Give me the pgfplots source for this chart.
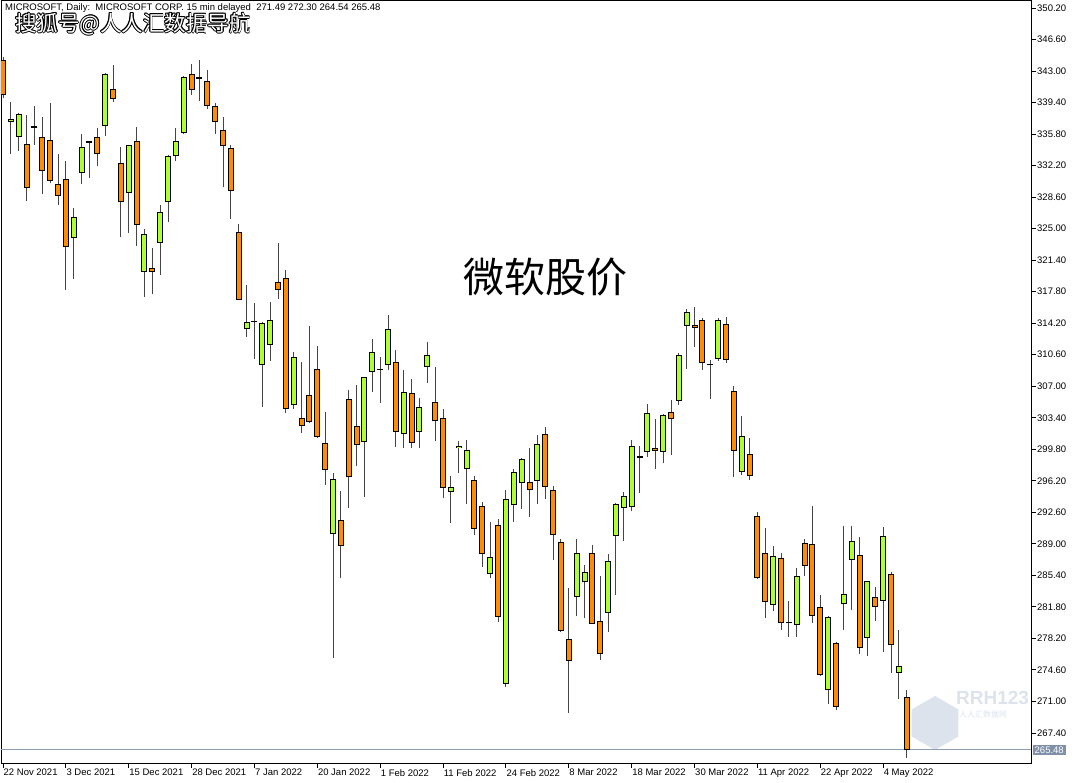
\documentclass[border=0pt]{standalone}
\usepackage{pgfplots}
\pgfplotsset{compat=1.18}
\usepackage{pgfplotstable}
\usepackage{fontspec}
\setmainfont{Liberation Sans}
\newfontfamily\cjk{Noto Sans CJK SC}
\definecolor{bull}{HTML}{ADFF2F}
\definecolor{bear}{HTML}{FF8C00}
\definecolor{wick}{HTML}{454545}
\definecolor{pline}{HTML}{8F9DB3}
\definecolor{pbox}{HTML}{7F90A8}
\definecolor{wm}{HTML}{DCE3EC}

\pgfplotstableread{
x o h l c
1 337.2 339.5 333.5 337.5
2 335.5 338.15 333.9 338.1
9 323.9 327.4 319.2 326.3
10 331.4 335.8 330.1 334.3
13 336.7 342.8 335.6 342.7
16 329.1 334.6 324.5 334.5
18 320.0 324.9 317.2 324.4
20 323.4 327.7 319.7 326.9
21 328.0 333.35 325.7 333.3
22 333.3 336.5 332.7 335.0
23 335.9 342.4 335.8 342.3
31 313.5 318.6 312.6 314.3
33 309.4 314.3 304.6 314.2
34 311.7 316.6 309.9 314.6
37 304.8 310.9 304.4 310.3
42 290.1 297.1 276.0 296.4
46 300.6 308.1 294.4 308.0
47 308.6 312.4 306.3 310.9
49 309.4 315.1 308.9 313.5
51 301.5 308.8 299.9 306.3
53 301.8 305.6 299.9 304.6
54 309.2 312.0 307.4 310.6
57 294.9 296.7 291.4 295.5
58 299.9 300.8 297.1 300.2
59 297.6 300.9 293.6 299.7
62 285.6 291.5 285.1 287.5
64 273.0 295.2 272.7 294.1
65 293.4 297.6 291.5 297.2
66 296.0 298.8 293.0 298.7
68 296.2 301.4 293.6 300.4
73 282.9 289.6 280.8 287.9
74 284.6 286.6 280.5 285.8
77 281.1 287.8 278.9 287.0
78 289.9 293.7 283.2 293.6
79 293.1 294.9 289.3 294.5
80 293.2 300.9 292.7 300.2
82 299.5 305.0 298.9 303.9
84 299.5 303.8 298.2 303.7
86 305.3 310.8 304.9 310.6
87 313.9 315.8 309.0 315.5
91 310.1 314.8 309.9 314.6
94 297.2 303.6 296.9 301.3
98 282.0 288.7 281.3 287.6
101 279.7 286.2 278.4 285.3
105 272.3 280.8 270.7 280.6
107 282.1 291.0 279.2 283.3
108 287.2 291.0 281.4 289.3
110 278.3 284.8 276.2 284.7
112 282.5 290.9 276.7 289.9
114 274.3 279.2 271.3 275.1
}\bulltab

\pgfplotstableread{
x o h l c
0 344.2 344.6 339.9 340.3
3 334.7 338.0 328.1 329.6
5 335.5 337.8 328.9 331.6
6 335.1 339.3 330.2 330.4
7 330.1 333.5 327.7 328.7
8 330.7 332.7 318.0 322.9
12 335.5 336.5 332.1 333.5
14 340.9 343.7 339.5 339.8
15 332.5 334.3 324.0 328.0
17 335.0 336.6 323.0 325.4
19 320.5 322.8 317.5 320.0
24 342.7 343.8 340.3 340.8
26 341.9 343.1 338.7 339.0
27 339.0 339.3 335.8 337.2
28 336.3 337.7 329.7 334.4
29 334.2 334.5 326.1 329.3
30 324.6 325.5 316.8 316.9
35 318.9 323.4 317.0 318.0
36 319.4 320.3 303.9 304.4
38 303.4 309.8 301.7 302.5
39 306.0 313.9 302.8 302.9
40 309.0 311.6 301.1 301.2
41 300.5 304.1 295.7 297.4
43 291.7 295.0 285.1 288.8
44 305.5 306.6 293.1 296.6
45 302.4 307.1 297.9 300.3
50 309.8 311.1 300.1 301.8
52 306.2 307.8 299.9 300.5
55 305.2 309.2 300.7 303.0
56 303.4 304.4 294.2 295.4
60 296.3 296.7 290.0 290.7
61 293.3 293.8 286.3 287.8
63 291.1 291.8 280.1 280.7
67 296.1 299.9 292.1 295.1
69 301.5 302.3 294.1 295.5
70 295.1 295.6 287.2 290.0
71 289.2 289.6 278.9 279.1
72 278.1 283.9 269.7 275.6
75 287.9 288.9 279.8 279.9
76 280.2 285.3 275.7 276.4
83 299.9 303.2 297.6 299.6
85 304.0 305.4 299.2 303.3
88 314.0 316.0 311.5 313.7
89 314.6 314.8 308.9 309.6
92 314.1 314.9 309.7 310.0
93 306.5 307.0 296.6 299.6
95 299.3 301.1 296.3 296.7
96 292.2 292.6 285.0 285.1
97 288.0 290.8 280.5 282.3
99 287.4 287.9 279.2 280.0
102 289.1 289.5 285.3 286.5
103 289.0 293.3 280.0 280.8
104 281.8 283.2 273.9 274.0
106 277.7 277.8 270.0 270.4
109 287.7 289.8 276.4 277.1
111 282.9 284.1 280.2 281.8
113 285.6 285.8 274.3 277.5
115 271.49 272.30 264.54 265.48
}\beartab

\pgfplotstableread{
x o h l c
4 336.6 339.0 334.6 336.6
11 334.9 335.0 330.8 334.9
25 342.2 344.3 339.6 342.2
32 314.4 316.5 310.1 314.4
48 308.9 310.3 305.1 308.9
81 298.9 300.2 294.8 298.9
90 309.5 310.0 305.5 309.5
100 280.0 282.5 278.4 280.0
}\dojitab

\pgfplotsset{
  wickstyle/.style={draw=none, mark=none, forget plot,
    error bars/.cd, y dir=plus, y explicit, error mark=none,
    error bar style={draw=wick, line width=0.9pt}},
  bodystyle/.style={draw=none, mark=none, forget plot,
    error bars/.cd, y dir=plus, y explicit, error mark=none,
    error bar style={draw=#1, line width=6pt}},
}

\begin{document}
\begin{tikzpicture}
\useasboundingbox (0pt,0pt) rectangle (1082pt,783pt);
% watermark bottom-right (behind the axis)
\fill[wm] (935pt,60pt) +(90:27pt) -- +(150:27pt) -- +(210:27pt) -- +(270:27pt) -- +(330:27pt) -- +(30:27pt) -- cycle;
\node[anchor=west, inner sep=0pt, text=wm, font=\bfseries\fontsize{19}{19}\selectfont] at (956pt,85pt) {RRH123};
\node[anchor=west, inner sep=0pt, text=wm, font=\cjk\fontsize{8}{8}\selectfont] at (959pt,69pt) {人人汇数据网};
\begin{axis}[
  at={(1pt,20pt)}, anchor=south west,
  scale only axis, width=1030pt, height=763pt,
  xmin=-0.255, xmax=130.82, ymin=263.97, ymax=351.11,
  axis line style={black, line width=0.9pt},
  tick align=outside, major tick length=5pt,
  tick style={black, line width=0.9pt},
  xtick pos=left, ytick pos=right, yticklabel pos=right,
  xtick={0,8,...,112},
  xticklabels={22 Nov 2021,3 Dec 2021,15 Dec 2021,28 Dec 2021,7 Jan 2022,20 Jan 2022,1 Feb 2022,11 Feb 2022,24 Feb 2022,8 Mar 2022,18 Mar 2022,30 Mar 2022,11 Apr 2022,22 Apr 2022,4 May 2022},
  ytick={267.4,271,274.6,278.2,281.8,285.4,289,292.6,296.2,299.8,303.4,307,310.6,314.2,317.8,321.4,325,328.6,332.2,335.8,339.4,343,346.6,350.2},
  /pgf/number format/assume math mode=true,
  yticklabel style={/pgf/number format/.cd, fixed, fixed zerofill, precision=2, /tikz/.cd, anchor=west, inner sep=0pt, xshift=1pt},
  xticklabel style={anchor=north west, inner sep=0pt, xshift=0.5pt, yshift=-1pt},
  ticklabel style={font=\fontsize{9.5}{11}\selectfont},
  scaled y ticks=false,
  clip mode=individual,
]
% current price line
\addplot[pline, line width=0.9pt, forget plot] coordinates {(-0.255,265.48) (130.82,265.48)};
\coordinate (pr) at (axis cs:130.82,265.48);
% wicks
\addplot[wickstyle] table[x=x, y=l, y error plus expr=\thisrow{h}-\thisrow{l}] {\bulltab};
\addplot[wickstyle] table[x=x, y=l, y error plus expr=\thisrow{h}-\thisrow{l}] {\beartab};
\addplot[wickstyle] table[x=x, y=l, y error plus expr=\thisrow{h}-\thisrow{l}] {\dojitab};
% bodies: black outline then coloured fill
\addplot[bodystyle=black] table[x=x, y=o, y error plus expr=\thisrow{c}-\thisrow{o}] {\bulltab};
\addplot[draw=none, mark=none, forget plot, error bars/.cd, y dir=plus, y explicit, error mark=none, error bar style={draw=bull, line width=4pt}] table[x=x, y expr=\thisrow{o}+0.114, y error plus expr=\thisrow{c}-\thisrow{o}-0.228] {\bulltab};
\addplot[bodystyle=black] table[x=x, y=c, y error plus expr=\thisrow{o}-\thisrow{c}] {\beartab};
\addplot[draw=none, mark=none, forget plot, error bars/.cd, y dir=plus, y explicit, error mark=none, error bar style={draw=bear, line width=4pt}] table[x=x, y expr=\thisrow{c}+0.114, y error plus expr=\thisrow{o}-\thisrow{c}-0.228] {\beartab};
% doji
\addplot[only marks, mark=-, mark size=3pt, mark options={black, line width=1.3pt}, forget plot] table[x=x, y=c] {\dojitab};
\end{axis}
\node[fill=pbox, text=white, anchor=west, inner xsep=2pt, inner ysep=1.5pt, font=\fontsize{9.5}{11}\selectfont] at ([xshift=1.5pt]pr) {265.48};
% header
\node[anchor=base west, inner sep=0pt, font=\fontsize{9.5}{11}\selectfont] at (5pt,772pt) {MICROSOFT, Daily:\ \ MICROSOFT CORP. 15 min delayed\ \ 271.49 272.30 264.54 265.48};
% watermark top-left
\foreach \dx/\dy in {-0.9/0,0.9/0,0/-0.9,0/0.9,-0.65/-0.65,0.65/0.65,-0.65/0.65,0.65/-0.65}{
  \node[anchor=west, inner sep=0pt, text=black, font=\cjk\fontsize{21.5}{21.5}\selectfont, xshift=\dx pt, yshift=\dy pt] at (15pt,759pt) {搜狐号@人人汇数据导航};
}
\node[anchor=west, inner sep=0pt, text=white, font=\cjk\fontsize{21.5}{21.5}\selectfont] at (15pt,759pt) {搜狐号@人人汇数据导航};
% title
\node[font=\cjk\fontsize{41}{41}\selectfont] at (545pt,506pt) {微软股价};
\end{tikzpicture}
\end{document}
